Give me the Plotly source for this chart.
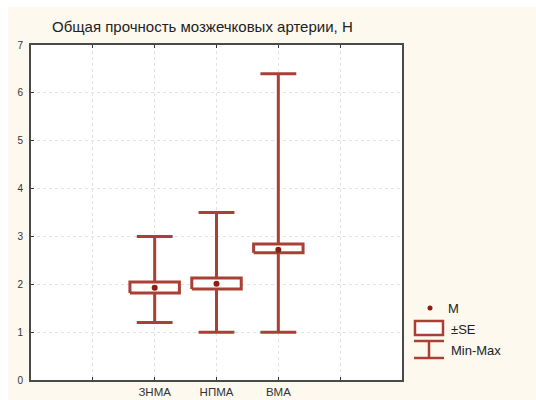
import plotly.graph_objects as go

categories = ["ЗНМА", "НПМА", "ВМА"]
cat_pos = [2, 3, 4]
means = [1.93, 2.01, 2.72]
se_low = [1.82, 1.90, 2.66]
se_high = [2.05, 2.13, 2.84]
mins = [1.2, 1.0, 1.0]
maxs = [3.0, 3.5, 6.4]
y_ticks = [0, 1, 2, 3, 4, 5, 6, 7]
x_ticks = [1, 2, 3, 4, 5]
x_ticktext = ["", "ЗНМА", "НПМА", "ВМА", ""]

RED = "#aa4035"
DOT = "#8e1c12"
BG = "#fdf9ef"
BOX_HW = 0.40
CAP_HW = 0.29

fig = go.Figure()

# whiskers
for x, lo, hi in zip(cat_pos, mins, maxs):
    fig.add_trace(go.Scatter(
        x=[x, x, None, x - CAP_HW, x + CAP_HW, None, x - CAP_HW, x + CAP_HW],
        y=[lo, hi, None, lo, lo, None, hi, hi],
        mode="lines", line=dict(color=RED, width=3), showlegend=False, hoverinfo="skip"))

# SE boxes
for x, lo, hi in zip(cat_pos, se_low, se_high):
    fig.add_trace(go.Scatter(
        x=[x - BOX_HW, x + BOX_HW, x + BOX_HW, x - BOX_HW, x - BOX_HW],
        y=[lo, lo, hi, hi, lo],
        mode="lines", fill="toself", fillcolor="white",
        line=dict(color=RED, width=3), showlegend=False, hoverinfo="skip"))

# means
fig.add_trace(go.Scatter(x=cat_pos, y=means, mode="markers",
                         marker=dict(color=DOT, size=6), showlegend=False))

# layout geometry: page pixels directly (body margin removed)
W, H = 536, 400
L, R, T, B = 31, 134, 45, 20
pw, ph = W - L - R, H - T - B

def px(x):
    return (x - L) / pw

def py(y):
    return (H - B - y) / ph

shapes = [
    # thin white border at top and left of the picture
    dict(type="rect", xref="paper", yref="paper", x0=px(-5), x1=px(8), y0=py(405), y1=py(-5),
         fillcolor="white", line=dict(width=0), layer="above"),
    dict(type="rect", xref="paper", yref="paper", x0=px(-5), x1=px(541), y0=py(7), y1=py(-5),
         fillcolor="white", line=dict(width=0), layer="above"),
    # legend icons
    dict(type="rect", xref="paper", yref="paper", x0=px(415), x1=px(443), y0=py(335), y1=py(321),
         line=dict(color=RED, width=2.5), fillcolor="white"),
    dict(type="line", xref="paper", yref="paper", x0=px(414), x1=px(444), y0=py(341), y1=py(341),
         line=dict(color=RED, width=2.5)),
    dict(type="line", xref="paper", yref="paper", x0=px(414), x1=px(444), y0=py(358), y1=py(358),
         line=dict(color=RED, width=2.5)),
    dict(type="line", xref="paper", yref="paper", x0=px(429), x1=px(429), y0=py(341), y1=py(358),
         line=dict(color=RED, width=2.5)),
    dict(type="circle", xref="paper", yref="paper", x0=px(427.5), x1=px(432.5), y0=py(305.5), y1=py(310.5),
         line=dict(color=DOT, width=0), fillcolor=DOT),
]

annotations = [
    dict(text="Общая прочность мозжечковых артерии, Н", xref="paper", yref="paper",
         x=px(50), y=py(27), xanchor="left", yanchor="middle", showarrow=False,
         font=dict(size=15, color="#222222", family="Liberation Sans, Arial")),
    dict(text="M", xref="paper", yref="paper", x=px(446), y=py(308), xanchor="left",
         yanchor="middle", showarrow=False, font=dict(size=13, color="#222")),
    dict(text="±SE", xref="paper", yref="paper", x=px(449), y=py(329), xanchor="left",
         yanchor="middle", showarrow=False, font=dict(size=13, color="#222")),
    dict(text="Min-Max", xref="paper", yref="paper", x=px(449), y=py(350), xanchor="left",
         yanchor="middle", showarrow=False, font=dict(size=13, color="#222")),
]

fig.update_layout(
    width=W, height=H,
    margin=dict(l=L, r=R, t=T, b=B, pad=0, autoexpand=False),
    paper_bgcolor=BG, plot_bgcolor="white",
    font=dict(family="Liberation Sans, Arial", size=10, color="#333"),
    shapes=shapes, annotations=annotations,
    xaxis=dict(range=[0, 6], tickmode="array", tickvals=x_ticks, ticktext=x_ticktext,
               automargin=False,
               showgrid=True, gridcolor="#e2e2e2", griddash="dot", gridwidth=1,
               zeroline=False, showline=True, linecolor="#4a4a4a", linewidth=2, mirror="ticks",
               ticks="inside", ticklen=3, tickcolor="#333", tickfont=dict(size=11.5)),
    yaxis=dict(range=[0, 7], tickmode="array", tickvals=y_ticks,
               automargin=False,
               showgrid=True, gridcolor="#e2e2e2", griddash="dot", gridwidth=1,
               zeroline=False, showline=True, linecolor="#4a4a4a", linewidth=2, mirror=True,
               ticks="inside", ticklen=3, tickcolor="#333", tickfont=dict(size=10),
               ticklabelstandoff=4),
)

fig.write_html(
    "out.html",
    config={"displayModeBar": False},
    post_script="document.body.style.margin='0';document.body.style.overflow='hidden';",
)
